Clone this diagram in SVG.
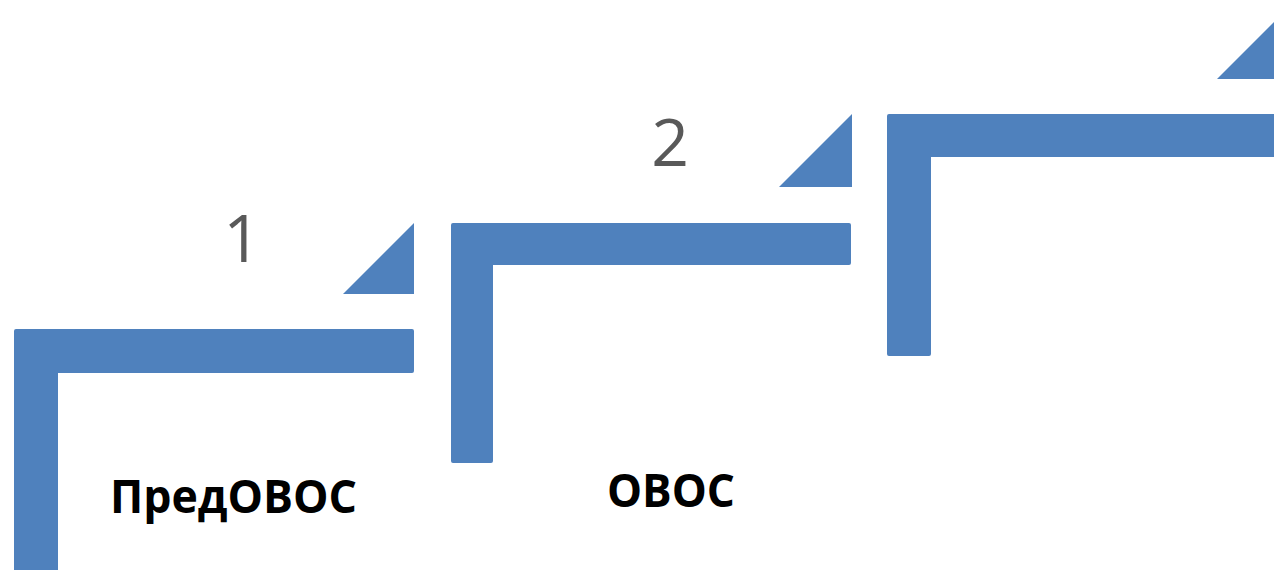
<svg xmlns="http://www.w3.org/2000/svg" width="1274" height="570" viewBox="0 0 1274 570">
<style>
.bar{fill:#4F81BD}
.num{font-family:"Open Sans","Liberation Sans",sans-serif;font-size:66px;fill:#595959;text-anchor:middle}
.lbl{font-family:"Open Sans","Liberation Sans",sans-serif;font-size:46px;font-weight:bold;fill:#000000}
</style>
<rect width="1274" height="570" fill="#FFFFFF"/>
<g id="step1">
<path class="bar" d="M16,329 H412 Q414,329 414,331 V371 Q414,373 412,373 H58 V572 H14 V331 Q14,329 16,329 Z"/>
<path class="bar" d="M343,294 L414,223 V294 Z"/>
<text class="num" x="242" y="262">1</text>
<text class="lbl" x="110" y="513" textLength="247" lengthAdjust="spacingAndGlyphs">ПредОВОС</text>
</g>
<g id="step2">
<path class="bar" d="M453,223 H849 Q851,223 851,225 V263 Q851,265 849,265 H493 V461 Q493,463 491,463 H453 Q451,463 451,461 V225 Q451,223 453,223 Z"/>
<path class="bar" d="M779,187 L852,114 V187 Z"/>
<text class="num" x="670" y="166">2</text>
<text class="lbl" x="607" y="507" textLength="128" lengthAdjust="spacingAndGlyphs">ОВОС</text>
</g>
<g id="step3">
<path class="bar" d="M889,114 H1276 V157 H931 V354 Q931,356 929,356 H889 Q887,356 887,354 V116 Q887,114 889,114 Z"/>
<path class="bar" d="M1217,79 L1289,7 V79 Z"/>
</g>
<g id="connectors"></g>
</svg>
